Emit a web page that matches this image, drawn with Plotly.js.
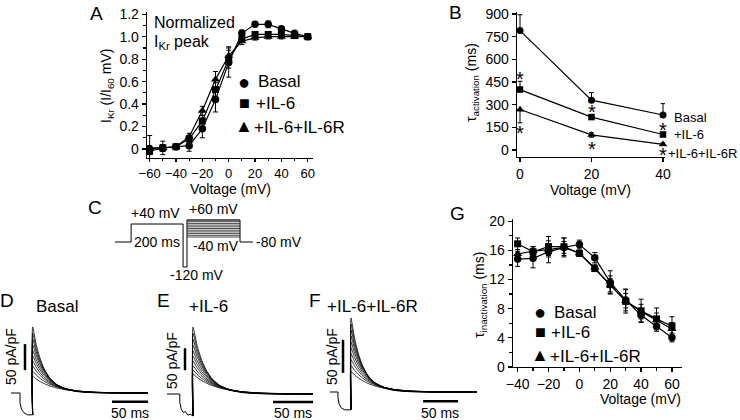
<!DOCTYPE html>
<html><head><meta charset="utf-8">
<script src="https://cdn.plot.ly/plotly-3.0.1.min.js"></script>
<style>html,body{margin:0;padding:0;background:#fff}#chart{width:740px;height:420px}</style>
</head><body><div id="chart"></div>
<script>
// ---------- Panel A: normalized IKr peak ----------
const aVoltage = [-60,-50,-40,-30,-20,-10,0,10,20,30,40,50,60];
const aBasal     = [0.00,0.01,0.02,0.03,0.18,0.44,0.77,1.03,1.11,1.11,1.07,1.03,1.00];
const aBasalErr  = [0.12,0.06,0.02,0.05,0.08,0.11,0.13,0.03,0.02,0.03,0.02,0.02,0.00];
const aIL6       = [-0.02,0.01,0.02,0.09,0.25,0.53,0.80,0.98,1.02,1.02,1.02,1.01,1.00];
const aIL6Err    = [0.03,0.03,0.02,0.03,0.05,0.06,0.08,0.03,0.02,0.02,0.02,0.01,0.00];
const aIL6R      = [0.01,0.01,0.02,0.11,0.34,0.62,0.83,0.96,0.99,1.00,1.00,1.00,1.00];
const aIL6RErr   = [0.02,0.03,0.02,0.03,0.04,0.07,0.08,0.03,0.02,0.02,0.02,0.01,0.00];
const aYTicks = [0,0.2,0.4,0.6,0.8,1.0,1.2];
const aYTickText = ["0","0.2","0.4","0.6","0.8","1.0","1.2"];

// ---------- Panel B: tau activation ----------
const bVoltage = [0,20,40];
const bBasal = [790,330,232];   const bBasalUp = [105,50,75];  const bBasalDn = [0,0,0];
const bIL6 = [400,218,103];     const bIL6Up = [55,10,8];      const bIL6Dn = [0,0,0];
const bIL6R = [268,100,38];     const bIL6RUp = [0,15,8];      const bIL6RDn = [88,15,5];
const bStarX = [0,0,20,20,40,40];
const bStarY = [470,110,250,5,135,-35];
const bSeriesLabels = ["Basal","+IL-6","+IL-6+IL-6R"];

// ---------- Panel G: tau inactivation ----------
const gVoltage = [-40,-30,-20,-10,0,10,20,30,40,50,60];
const gBasal    = [14.8,14.9,15.8,16.4,16.8,15.0,11.6,9.2,7.1,5.6,4.05];
const gBasalErr = [1.0,1.3,1.5,1.3,0.6,0.7,1.6,1.5,0.9,0.7,0.6];
const gIL6      = [16.9,15.8,16.5,16.5,15.6,13.5,11.3,9.0,7.7,6.6,5.6];
const gIL6Err   = [0.8,0.7,1.4,1.2,0.4,0.4,1.2,1.6,1.6,1.5,1.3];
const gIL6R     = [15.5,15.9,16.1,16.4,15.6,13.6,11.2,9.1,7.6,6.4,5.2];
const gIL6RErr  = [0.6,0.6,0.8,0.8,0.4,0.5,0.9,1.0,1.0,1.0,0.9];

// ---------- Panel C: voltage protocol (schematic drawn levels) ----------
const protoTime  = [0,62,62,262,262,277,277,481,481,531];
const protoLevel = [0,0,18,18,-25,-25,22,22,0,0];
const familyLevel = [5,6.7,8.4,10.1,11.8,13.5,15.2,16.9,18.6,20.3,22];
const familyStart = 277, familyEnd = 481;

// ---------- Panels D/E/F: current traces (pA/pF vs ms) ----------
const decayTimes = [0,5,10,16,24,34,46,62,85,120]; // ms after the step
// D Basal
const dPreT = [0,12.5,12.5,14.5,18,23,30];
const dPreI = [0,0,-19,-31,-38,-42,-42];
const dStep = 30, dEnd = 190;
const dSweeps = [
 [127,93,68,46.7,28.3,15.2,7.2,2.6,0.6,0.1],
 [115,85.7,63.8,44.9,28.1,15.5,7.7,3.0,0.8,0.1],
 [104,78.7,59.7,42.7,27.5,15.7,8.1,3.3,0.9,0.1],
 [93,71.5,55,40.1,26.3,15.5,8.3,3.6,1.1,0.2],
 [82,63.9,49.8,36.8,24.7,15,8.2,3.7,1.2,0.2],
 [72,56.7,44.7,33.6,23,14.3,8.1,3.8,1.3,0.2],
 [62,49.4,39.4,30,20.8,13.2,7.7,3.7,1.3,0.3],
 [52,42.2,34.3,26.7,19.1,12.6,7.6,3.9,1.5,0.3],
 [42,34.7,28.6,22.7,16.7,11.4,7.1,3.9,1.6,0.4],
 [32,26.8,22.4,18.1,13.6,9.5,6.2,3.5,1.5,0.4]];
// E +IL-6
const ePreT = [0,16,16,18,20,23,26,29,32.5];
const ePreI = [0,0,-20,-35,-42,-40,-48,-46,-50];
const eStep = 32.5, eEnd = 182.5;
const eSweeps = [
 [152,111.3,81.3,55.9,33.9,18.1,8.6,3.2,0.7,0.1],
 [138,102.8,76.6,53.8,33.7,18.6,9.2,3.6,0.9,0.1],
 [124,93.9,71.2,51,32.7,18.7,9.6,4,1.1,0.2],
 [111,85.4,65.6,47.8,31.4,18.5,9.9,4.3,1.3,0.2],
 [98,76.3,59.5,44,29.5,17.9,9.8,4.4,1.4,0.2],
 [86,67.8,53.4,40.2,27.4,17,9.6,4.5,1.5,0.3],
 [75,59.8,47.6,36.2,25.2,16,9.3,4.5,1.6,0.3],
 [64,52,42.2,32.8,23.6,15.6,9.4,4.8,1.9,0.4],
 [54,44.6,36.8,29.2,21.4,14.6,9.2,5,2.1,0.5],
 [45,37.7,31.5,25.4,19.1,13.4,8.7,4.9,2.2,0.6]];
// F +IL-6+IL-6R
const fPreT = [0,11.4,11.4,13,16,21,30];
const fPreI = [0,0,-9,-18,-24,-27,-27];
const fStep = 30, fEnd = 210;
const fSweeps = [
 [112,82,59.9,41.2,25,13.3,6.3,2.3,0.5,0.1],
 [103,76.7,57.2,40.2,25.1,13.9,6.9,2.7,0.7,0.1],
 [94,71.2,54,38.6,24.8,14.2,7.3,3,0.8,0.1],
 [85,65.4,50.2,36.6,24.1,14.2,7.5,3.3,1,0.2],
 [76,59.2,46.1,34.1,22.9,13.9,7.6,3.4,1.1,0.2],
 [67,52.8,41.6,31.3,21.4,13.3,7.5,3.5,1.2,0.2],
 [58,46.2,36.8,28,19.5,12.4,7.2,3.5,1.2,0.2],
 [49,39.8,32.3,25.1,18,11.9,7.2,3.7,1.4,0.3],
 [40,33,27.2,21.6,15.9,10.8,6.8,3.7,1.5,0.4],
 [31,25.9,21.7,17.5,13.1,9.2,6,3.4,1.5,0.4]];

// ---------- helpers ----------
const W = 740, H = 420;
const px = x => x / W;
const py = y => 1 - y / H;
const FONT = "Liberation Sans, Arial, sans-serif";
const BLACK = "#000";

const traces = [];
function series(x, y, err, sym, size, xa, ya, errMinus) {
  const t = {x: x, y: y, xaxis: xa, yaxis: ya, type: "scatter", mode: "lines+markers",
    line: {color: BLACK, width: 1.2},
    marker: {symbol: sym, size: size, color: BLACK},
    showlegend: false, hoverinfo: "skip", cliponaxis: false};
  if (err) {
    t.error_y = {type: "data", array: err, color: BLACK, thickness: 1, width: 2.5, visible: true};
    if (errMinus) { t.error_y.symmetric = false; t.error_y.arrayminus = errMinus; }
  }
  return t;
}
// A
traces.push(series(aVoltage, aIL6R, aIL6RErr, "triangle-up", 8, "x", "y"));
traces.push(series(aVoltage, aIL6, aIL6Err, "square", 7, "x", "y"));
traces.push(series(aVoltage, aBasal, aBasalErr, "circle", 7.5, "x", "y"));
// B
traces.push(series(bVoltage, bBasal, bBasalUp, "circle", 7, "x2", "y2", bBasalDn));
traces.push(series(bVoltage, bIL6, bIL6Up, "square", 6.5, "x2", "y2", bIL6Dn));
traces.push(series(bVoltage, bIL6R, bIL6RUp, "triangle-up", 7.5, "x2", "y2", bIL6RDn));
// G
traces.push(series(gVoltage, gIL6R, gIL6RErr, "triangle-up", 8, "x3", "y3"));
traces.push(series(gVoltage, gIL6, gIL6Err, "square", 7, "x3", "y3"));
traces.push(series(gVoltage, gBasal, gBasalErr, "circle", 7.5, "x3", "y3"));
// C
traces.push({x: protoTime, y: protoLevel, xaxis: "x4", yaxis: "y4", type: "scatter", mode: "lines",
  line: {color: BLACK, width: 1}, showlegend: false, hoverinfo: "skip"});
familyLevel.forEach(lv => traces.push({x: [familyStart, familyEnd], y: [lv, lv], xaxis: "x4", yaxis: "y4",
  type: "scatter", mode: "lines", line: {color: "#333", width: 0.9}, showlegend: false, hoverinfo: "skip"}));
// D/E/F
function currentPanel(preT, preI, step, end, sweeps, xa, ya) {
  traces.push({x: preT, y: preI, xaxis: xa, yaxis: ya, type: "scatter", mode: "lines",
    line: {color: BLACK, width: 1}, showlegend: false, hoverinfo: "skip"});
  const trough = preI[preI.length - 1];
  sweeps.forEach(vals => {
    traces.push({x: [step].concat(decayTimes.map(d => step + d)).concat([end]),
      y: [trough].concat(vals).concat([0]), xaxis: xa, yaxis: ya, type: "scatter", mode: "lines",
      line: {color: BLACK, width: 0.8, shape: "spline", smoothing: 0.5}, showlegend: false, hoverinfo: "skip"});
  });
}
currentPanel(dPreT, dPreI, dStep, dEnd, dSweeps, "x5", "y5");
currentPanel(ePreT, ePreI, eStep, eEnd, eSweeps, "x6", "y6");
currentPanel(fPreT, fPreI, fStep, fEnd, fSweeps, "x7", "y7");

// ---------- axes ----------
function dataAxis(extra) {
  return Object.assign({showline: true, linecolor: BLACK, linewidth: 1.3, ticks: "outside", ticklen: 4,
    tickwidth: 1.2, tickcolor: BLACK, showgrid: false, zeroline: false, fixedrange: true,
    tickfont: {family: FONT, size: 14, color: BLACK}}, extra);
}
function hiddenAxis(extra) {
  return Object.assign({visible: false, showgrid: false, zeroline: false, fixedrange: true}, extra);
}
const layout = {
  width: W, height: H, margin: {l: 0, r: 0, t: 0, b: 0}, paper_bgcolor: "#fff", plot_bgcolor: "rgba(0,0,0,0)",
  font: {family: FONT, color: BLACK},
  xaxis: dataAxis({domain: [px(147), px(313)], range: [-62, 64], anchor: "y", tickvals: [-60,-40,-20,0,20,40,60],
    ticklen: 3, tickfont: {family: FONT, size: 13, color: BLACK},
    minor: {ticks: "outside", ticklen: 2, tickmode: "linear", tick0: 0, dtick: 10, tickcolor: BLACK}}),
  yaxis: dataAxis({domain: [py(158), py(12)], range: [-0.08, 1.22], anchor: "x", tickvals: aYTicks, ticktext: aYTickText,
    minor: {ticks: "outside", ticklen: 3, tickmode: "linear", tick0: 0, dtick: 0.1, tickcolor: BLACK}}),
  xaxis2: dataAxis({domain: [px(517), px(665)], range: [-0.84, 40.56], anchor: "y2", tickvals: [0,20,40]}),
  yaxis2: dataAxis({domain: [py(157), py(12)], range: [-46, 913], anchor: "x2", tickvals: [0,150,300,450,600,750,900]}),
  xaxis3: dataAxis({domain: [px(513), px(682)], range: [-43, 66.5], anchor: "y3", tickvals: [-40,-20,0,20,40,60],
    minor: {ticks: "outside", ticklen: 3, tickmode: "linear", tick0: 0, dtick: 10, tickcolor: BLACK}}),
  yaxis3: dataAxis({domain: [py(367), py(219)], range: [0, 20.3], anchor: "x3", tickvals: [0,4,8,12,16,20],
    minor: {ticks: "outside", ticklen: 3, tickmode: "linear", tick0: 0, dtick: 2, tickcolor: BLACK}}),
  xaxis4: hiddenAxis({domain: [px(115), px(253)], range: [0, 531], anchor: "y4"}),
  yaxis4: hiddenAxis({domain: [py(275), py(205)], range: [-33, 37], anchor: "x4"}),
  xaxis5: hiddenAxis({domain: [px(11), px(148)], range: [0, 190], anchor: "y5"}),
  yaxis5: hiddenAxis({domain: [0, py(300)], range: [-51.9, 178.8], anchor: "x5"}),
  xaxis6: hiddenAxis({domain: [px(167), px(313)], range: [0, 182.5], anchor: "y6"}),
  yaxis6: hiddenAxis({domain: [0, py(300)], range: [-59.1, 213.6], anchor: "x6"}),
  xaxis7: hiddenAxis({domain: [px(330), px(477)], range: [0, 210], anchor: "y7"}),
  yaxis7: hiddenAxis({domain: [0, py(300)], range: [-42.4, 139.4], anchor: "x7"}),
  shapes: [], annotations: []
};

// scale bars (in each panel's data units: 50 pA/pF, 50 ms)
function scaleBars(xa, ya, vx, vy0, hx0, hy) {
  layout.shapes.push({type: "line", xref: xa, yref: ya, x0: vx, x1: vx, y0: vy0, y1: vy0 + 50, line: {color: BLACK, width: 2.5}});
  layout.shapes.push({type: "line", xref: xa, yref: ya, x0: hx0, x1: hx0 + 50, y0: hy, y1: hy, line: {color: BLACK, width: 2.5}});
}
scaleBars("x5", "y5", 19.4, 44, 140, -17);
scaleBars("x6", "y6", 22.5, 54, 132.5, -18);
scaleBars("x7", "y7", 18.6, 29, 133, -14);

// annotations
function ann(text, x, y, size, opts) {
  layout.annotations.push(Object.assign({text: text, x: px(x), y: py(y), xref: "paper", yref: "paper",
    showarrow: false, font: {family: FONT, size: size, color: BLACK}, xanchor: "center", yanchor: "middle"}, opts || {}));
}
// panel letters
ann("A", 96, 13, 19); ann("B", 455, 12, 19); ann("C", 95, 207, 19);
ann("D", 7, 300, 19); ann("E", 163, 300, 19); ann("F", 315, 300, 19); ann("G", 457, 213, 19);
// A texts
ann("Normalized", 152, 22, 16, {xanchor: "left"});
ann("I<sub>Kr</sub> peak", 152, 43, 16, {xanchor: "left"});
ann("I<sub>Kr</sub> (I/I<sub>60</sub> mV)", 107, 86, 14, {textangle: -90});
ann("Voltage (mV)", 230, 189, 14, {borderpad: 0});
ann("●", 244, 82, 20); ann(bSeriesLabels[0], 256, 82, 17, {xanchor: "left"});
ann("■", 244, 103, 18); ann(bSeriesLabels[1], 254, 103, 17, {xanchor: "left"});
ann("▲", 244, 126, 18); ann(bSeriesLabels[2], 252, 127, 17, {xanchor: "left"});
// B texts
ann("τ<sub>activation</sub> (ms)", 472, 83, 14, {textangle: -90});
ann("Voltage (mV)", 590, 190, 14);
ann(bSeriesLabels[0], 672, 117, 13, {xanchor: "left"});
ann(bSeriesLabels[1], 672, 134, 13, {xanchor: "left"});
ann(bSeriesLabels[2], 666, 153, 13, {xanchor: "left"});
bStarX.forEach((sx, i) => layout.annotations.push({text: "*", x: sx, y: bStarY[i], xref: "x2", yref: "y2",
  showarrow: false, font: {family: FONT, size: 20, color: BLACK}, xanchor: "center", yanchor: "middle"}));
// G texts
ann("τ<sub>inactivation</sub> (ms)", 480, 295, 14, {textangle: -90});
ann("Voltage (mV)", 640, 399, 14);
ann("●", 540, 312, 20); ann(bSeriesLabels[0], 552, 312, 17, {xanchor: "left"});
ann("■", 540, 332, 18); ann(bSeriesLabels[1], 549, 332, 17, {xanchor: "left"});
ann("▲", 540, 355, 18); ann(bSeriesLabels[2], 548, 356, 17, {xanchor: "left"});
// C texts
ann("+40 mV", 155, 213, 14); ann("+60 mV", 213, 209, 14); ann("200 ms", 157, 242, 14);
ann("-40 mV", 216, 246, 14); ann("-80 mV", 279, 242, 14); ann("-120 mV", 197, 275, 14);
// D/E/F texts
ann("Basal", 57, 306, 17); ann("+IL-6", 208, 306, 17); ann("+IL-6+IL-6R", 373, 306, 17);
ann("50 ms", 130, 413, 14); ann("50 ms", 293, 413, 14); ann("50 ms", 440, 413, 14);
ann("50 pA/pF", 11, 357, 14, {textangle: -90}); ann("50 pA/pF", 172, 361, 14, {textangle: -90});
ann("50 pA/pF", 332, 357, 14, {textangle: -90});

Plotly.newPlot("chart", traces, layout, {displayModeBar: false, staticPlot: true});
</script></body></html>
